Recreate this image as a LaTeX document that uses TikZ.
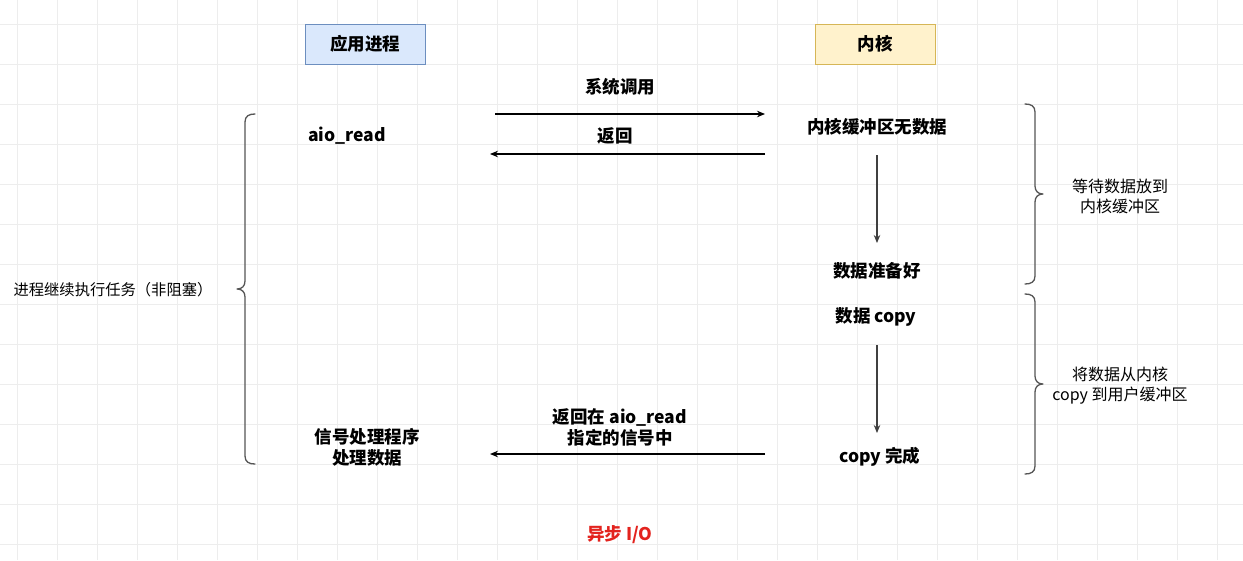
\documentclass[tikz,border=0pt]{standalone}
\usepackage{fontspec}
\setmainfont{Noto Sans CJK SC}
\usetikzlibrary{arrows.meta}
\definecolor{gridc}{HTML}{EDEDED}
\definecolor{bluefill}{HTML}{DAE8FC}
\definecolor{blueline}{HTML}{6C8EBF}
\definecolor{yelfill}{HTML}{FFF2CC}
\definecolor{yelline}{HTML}{D6B656}
\definecolor{bracec}{HTML}{555555}
\definecolor{redt}{HTML}{E3231E}
\tikzset{
  hdr/.style={draw, line width=0.8pt, minimum width=120pt, minimum height=40pt, inner sep=0pt, font=\fontsize{17.5}{20}\selectfont\bfseries},
  lbl/.style={inner sep=0pt, align=center, font=\fontsize{17.5}{21}\selectfont\bfseries},
  note/.style={inner sep=0pt, align=center, font=\fontsize{16}{20}\selectfont},
  msg/.style={line width=1.2pt, -{Stealth[length=8pt,width=6.5pt]}},
  vmsg/.style={line width=1.1pt, draw=black!75, -{Stealth[length=8pt,width=6.5pt]}},
  curly/.style={line width=1.3pt, draw=bracec, line cap=round, line join=round}
}
\begin{document}
\begin{tikzpicture}[x=1pt,y=-1pt]
\useasboundingbox (0,0) rectangle (1243,560);
\fill[white] (0,0) rectangle (1243,560);
% grid
\foreach \gx in {17,57,...,1243} {\draw[gridc, line width=0.6pt] (\gx,0) -- (\gx,560);}
\foreach \gy in {24,64,...,560} {\draw[gridc, line width=0.6pt] (0,\gy) -- (1243,\gy);}
% headers
\node[hdr, fill=bluefill, draw=blueline] (app) at (365,44) {应用进程};
\node[hdr, fill=yelfill, draw=yelline] (kern) at (875,44) {内核};
% texts
\node[lbl] (syscall) at (620,87) {系统调用};
\node[lbl] (ret) at (615,136) {返回};
\node[lbl] (aio) at (347,136) {aio\_read};
\node[lbl] (nodata) at (877,127) {内核缓冲区无数据};
\node[lbl] (ready) at (877,271) {数据准备好};
\node[lbl] (dcopy) at (876,317) {数据 copy};
\node[lbl] (cdone) at (880,457) {copy 完成};
\node[lbl] (sig) at (367,447) {信号处理程序\\处理数据};
\node[lbl] (retsig) at (620,427) {返回在 aio\_read\\指定的信号中};
\node[note] (wait) at (1120,196) {等待数据放到\\内核缓冲区};
\node[note] (tocopy) at (1120,386) {将数据从内核\\copy 到用户缓冲区};
\node[note, font=\fontsize{15.3}{19}\selectfont] (cont) at (113,290) {进程继续执行任务（非阻塞）};
\node[inner sep=0pt, text=redt, font=\fontsize{17.5}{20}\selectfont\bfseries] (title) at (620,535) {异步 I/O};
% connector coordinates
\coordinate (a1s) at (495,114); \coordinate (a1e) at (765,114);
\coordinate (a2s) at (765,154); \coordinate (a2e) at (490,154);
\coordinate (a3s) at (765,454); \coordinate (a3e) at (490,454);
\coordinate (v1s) at (877,155); \coordinate (v1e) at (877,243);
\coordinate (v2s) at (877,345); \coordinate (v2e) at (877,433);
\draw[msg] (a1s) -- (a1e);
\draw[msg] (a2s) -- (a2e);
\draw[msg] (a3s) -- (a3e);
\draw[vmsg] (v1s) -- (v1e);
\draw[vmsg] (v2s) -- (v2e);
% right braces
\draw[curly] (1025,104) .. controls (1031,104) and (1035,106) .. (1035,112)
  -- (1035,186) .. controls (1035,191) and (1038,194) .. (1043,194)
  .. controls (1038,194) and (1035,197) .. (1035,202)
  -- (1035,276) .. controls (1035,282) and (1031,284) .. (1025,284);
\draw[curly] (1025,294) .. controls (1031,294) and (1035,296) .. (1035,302)
  -- (1035,376) .. controls (1035,381) and (1038,384) .. (1043,384)
  .. controls (1038,384) and (1035,387) .. (1035,392)
  -- (1035,466) .. controls (1035,472) and (1031,474) .. (1025,474);
% left brace
\draw[curly] (255,114) .. controls (249,114) and (245,116) .. (245,122)
  -- (245,281) .. controls (245,286) and (242,289) .. (237,289)
  .. controls (242,289) and (245,292) .. (245,297)
  -- (245,456) .. controls (245,462) and (249,464) .. (255,464);
\end{tikzpicture}
\end{document}
